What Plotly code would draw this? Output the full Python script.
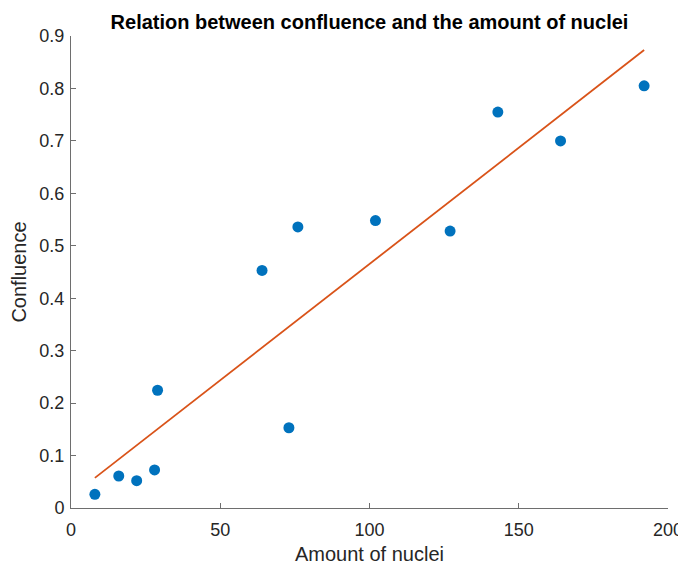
import numpy as np
import plotly.graph_objects as go

nuclei = [8, 16, 22, 28, 29, 64, 73, 76, 102, 127, 143, 164, 192]
confluence = [0.026, 0.061, 0.052, 0.0725, 0.2245, 0.453, 0.153, 0.536, 0.548, 0.528, 0.755, 0.700, 0.805]
x_ticks = [0, 50, 100, 150, 200]
y_ticks = [0, 0.1, 0.2, 0.3, 0.4, 0.5, 0.6, 0.7, 0.8, 0.9]
y_tick_labels = ["0", "0.1", "0.2", "0.3", "0.4", "0.5", "0.6", "0.7", "0.8", "0.9"]

slope, intercept = np.polyfit(nuclei, confluence, 1)
fit_x = [min(nuclei), max(nuclei)]
fit_y = [slope * v + intercept for v in fit_x]

font_family = "Liberation Sans, Arial, Helvetica, sans-serif"
txt = "#262626"
axc = "#6e6e6e"

fig = go.Figure()
fig.add_trace(go.Scatter(x=nuclei, y=confluence, mode="markers",
                         marker=dict(color="#0072BD", size=11, line=dict(width=0)),
                         showlegend=False))
fig.add_trace(go.Scatter(x=fit_x, y=fit_y, mode="lines",
                         line=dict(color="#D95319", width=1.8), showlegend=False))

# page body has an 8px margin, so the figure is offset by (8, 8) in the window
fig.update_layout(
    width=686, height=565,
    margin=dict(l=63, r=26, t=28, b=65, autoexpand=False),
    paper_bgcolor="white", plot_bgcolor="white",
    font=dict(family=font_family, color=txt, size=18),
    title=dict(text="<b>Relation between confluence and the amount of nuclei</b>",
               x=(63 + 660) / 2 / 686, xanchor="center",
               y=1 - 14 / 565, yanchor="middle", yref="container",
               font=dict(size=20, color="#000000")),
    xaxis=dict(range=[0, 200], tickvals=x_ticks, ticks="inside", ticklen=5,
               tickcolor=axc, showline=True, linecolor=axc, linewidth=1,
               showgrid=False, zeroline=False, mirror=False, automargin=False,
               ticklabelstandoff=5,
               tickfont=dict(size=18, color=txt),
               title=dict(text="Amount of nuclei", font=dict(size=20, color=txt), standoff=8)),
    yaxis=dict(range=[0, 0.9], tickvals=y_ticks, ticktext=y_tick_labels,
               ticks="inside", ticklen=5, tickcolor=axc, showline=True,
               linecolor=axc, linewidth=1, showgrid=False, zeroline=False,
               automargin=False, ticklabelstandoff=2,
               tickfont=dict(size=18, color=txt),
               title=dict(text="Confluence", font=dict(size=20, color=txt), standoff=8)),
)

fig.write_html("out.html")
